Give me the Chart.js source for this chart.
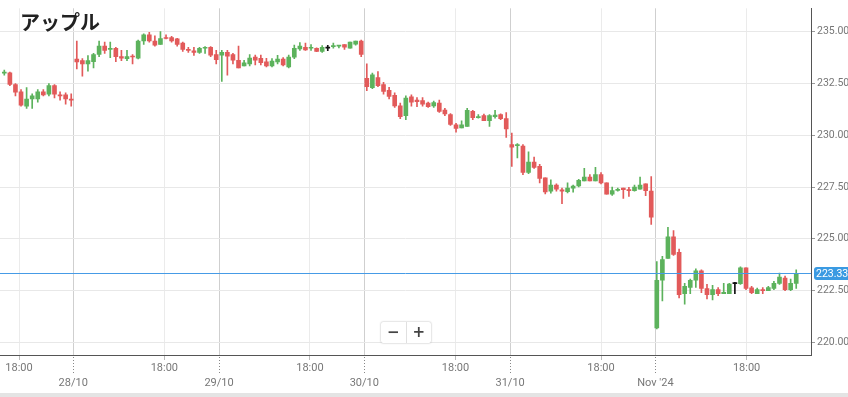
<!DOCTYPE html>
<html>
<head>
<meta charset="utf-8">
<script src="https://cdn.jsdelivr.net/npm/chart.js@4"></script>
<style>
  html, body { margin: 0; padding: 0; background: #e4e4e4; }
  #wrap { position: relative; width: 848px; height: 393px; background: #fff; }
  #title {
    position: absolute; left: 20px; top: 7px;
    font: bold 20px "Noto Sans CJK JP", sans-serif; color: #222;
    text-shadow: 0 0 3px #fff, 0 0 3px #fff, 0 0 3px #fff;
  }
  #zoom {
    position: absolute; left: 381px; top: 322px; width: 50px; height: 21px;
    background: #fff; box-shadow: 0 0 2px rgba(0,0,0,.35); border-radius: 2px;
    display: flex; font: bold 15px "DejaVu Sans", sans-serif; color: #444;
  }
  #zoom span { flex: 1; text-align: center; line-height: 21px; }
  #zoom span + span { border-left: 1px solid #e0e0e0; }
</style>
</head>
<body>
<div id="wrap">
  <canvas id="c" width="848" height="393"></canvas>
  <div id="title">アップル</div>
  <div id="zoom"><span>−</span><span>+</span></div>
</div>
<script>
// OHLC per candle (index 0 = first candle on the left)
const opens = [
  233.0, 233.02, 232.45, 232.1, 231.4, 231.75, 231.75, 232.1, 231.98, 232.4, 231.95, 231.95, 231.75,
  233.68, 233.6, 233.45, 233.55, 233.9, 234.3, 234.15, 234.2, 233.8, 233.7, 233.82, 233.72, 234.55, 234.85, 234.55, 234.38, 234.7, 234.72, 234.65, 234.45, 234.15, 234.08, 234.0, 234.2, 234.25, 233.9,
  233.87, 234.0, 233.9, 233.62, 233.35, 233.45, 233.77, 233.72, 233.55, 233.35, 233.54, 233.68, 233.3, 233.77, 234.17, 234.25, 234.2, 234.2, 234.05, 234.21, 234.28, 234.3, 234.38, 234.2, 234.4, 234.55,
  232.75, 232.3, 232.78, 232.45, 232.17, 231.93, 231.42, 230.95, 231.85, 231.7, 231.67, 231.55, 231.42, 231.55, 231.22, 231.0, 230.5, 230.35, 230.43, 231.15, 230.85, 230.95, 230.7, 230.9, 231.0, 230.8,
  229.55, 229.5, 229.48, 228.2, 228.7, 228.5, 227.95, 227.3, 227.6, 227.37, 227.28, 227.45, 227.55, 227.8, 227.98, 227.8, 228.1, 227.7, 227.15, 227.34, 227.45, 227.38, 227.33, 227.4, 227.65, 227.3,
  220.7, 223.0, 224.05, 225.1, 224.35, 222.35, 222.65, 223.0, 223.45, 222.6, 222.3, 222.55, 222.35, 222.35, 222.84, 222.83, 223.6, 222.63, 222.35, 222.55, 222.5, 222.6, 222.85, 223.1, 222.55, 222.85
];
const highs = [
  233.15, 233.05, 232.5, 232.2, 232.3, 232.0, 232.2, 232.2, 232.5, 232.45, 232.1, 232.05, 232.0,
  234.55, 233.7, 233.85, 233.95, 234.55, 234.5, 234.5, 234.25, 234.1, 234.1, 233.9, 234.6, 234.9, 234.97, 234.8, 235.0, 234.85, 234.78, 234.68, 234.5, 234.25, 234.25, 234.25, 234.28, 234.28, 234.1,
  234.1, 234.1, 233.95, 234.3, 233.62, 233.9, 233.87, 233.87, 233.72, 233.7, 233.86, 233.75, 233.87, 234.35, 234.48, 234.45, 234.38, 234.22, 234.33, 234.34, 234.45, 234.33, 234.38, 234.5, 234.55, 234.6,
  233.45, 233.0, 233.07, 232.55, 232.32, 232.05, 231.55, 231.9, 231.95, 231.82, 231.82, 231.6, 231.65, 231.7, 231.3, 231.05, 230.57, 230.7, 231.3, 231.2, 231.0, 231.02, 231.0, 231.2, 231.03, 231.1,
  230.1, 229.6, 229.55, 229.2, 228.95, 228.6, 227.95, 227.85, 227.65, 227.45, 227.7, 227.6, 227.87, 228.4, 228.1, 228.45, 228.2, 227.7, 227.5, 227.45, 227.45, 227.48, 227.6, 227.98, 227.65, 228.0,
  223.9, 224.15, 225.55, 225.4, 224.5, 222.85, 223.05, 223.55, 223.5, 222.8, 222.75, 222.65, 222.85, 222.85, 222.9, 223.65, 223.6, 222.7, 222.62, 222.65, 222.7, 222.95, 223.35, 223.2, 223.05, 223.5
];
const lows = [
  232.9, 232.4, 231.9, 231.4, 231.3, 231.3, 231.6, 231.9, 231.9, 231.8, 231.7, 231.5, 231.4,
  233.2, 232.85, 233.1, 233.25, 233.8, 233.95, 233.75, 233.55, 233.6, 233.6, 233.45, 233.68, 234.38, 234.5, 234.3, 234.38, 234.65, 234.5, 234.3, 234.05, 234.0, 233.85, 233.95, 233.95, 233.8, 233.45,
  232.6, 232.9, 233.45, 233.25, 233.35, 233.35, 233.4, 233.4, 233.3, 233.3, 233.45, 233.35, 233.25, 233.7, 234.1, 234.1, 234.1, 234.03, 234.0, 234.09, 234.2, 234.22, 234.15, 234.2, 234.35, 233.8,
  232.15, 232.25, 232.35, 231.98, 231.75, 231.35, 230.8, 230.75, 231.4, 231.38, 231.4, 231.35, 231.35, 231.1, 230.95, 230.48, 230.15, 230.35, 230.43, 230.75, 230.82, 230.7, 230.43, 230.82, 230.75, 229.9,
  228.5, 228.9, 228.1, 228.15, 228.4, 227.7, 227.17, 227.2, 227.3, 226.7, 227.22, 227.25, 227.5, 227.8, 227.8, 227.8, 227.65, 227.15, 227.1, 227.3, 226.95, 227.05, 227.3, 227.4, 227.08, 225.7,
  220.65, 222.0, 224.05, 224.2, 222.15, 221.85, 222.35, 222.65, 222.4, 222.1, 222.05, 222.25, 222.35, 222.35, 222.35, 222.8, 222.55, 222.35, 222.35, 222.35, 222.5, 222.55, 222.8, 222.5, 222.5, 222.6
];
const closes = [
  233.05, 232.45, 232.08, 231.45, 231.75, 231.9, 232.1, 231.95, 232.4, 231.98, 231.9, 231.75, 231.7,
  233.54, 233.45, 233.6, 233.9, 234.3, 234.1, 234.2, 233.8, 233.72, 233.8, 233.78, 234.55, 234.85, 234.55, 234.35, 234.67, 234.67, 234.55, 234.38, 234.15, 234.1, 234.0, 234.2, 234.25, 233.87, 233.65,
  234.0, 233.82, 233.62, 233.25, 233.5, 233.73, 233.63, 233.5, 233.35, 233.58, 233.68, 233.4, 233.77, 234.2, 234.3, 234.12, 234.23, 234.05, 234.25, 234.21, 234.32, 234.32, 234.25, 234.5, 234.55, 233.9,
  232.35, 232.92, 232.4, 232.12, 231.88, 231.42, 230.9, 231.8, 231.6, 231.62, 231.5, 231.38, 231.58, 231.15, 231.03, 230.52, 230.33, 230.5, 231.2, 230.85, 230.9, 230.7, 230.95, 230.97, 230.8, 230.3,
  229.43, 229.55, 228.2, 228.7, 228.45, 227.92, 227.26, 227.6, 227.4, 227.3, 227.45, 227.55, 227.82, 227.98, 227.8, 228.1, 227.7, 227.15, 227.33, 227.38, 227.37, 227.32, 227.5, 227.6, 227.32, 226.05,
  223.0, 224.0, 225.1, 224.25, 222.3, 222.7, 223.0, 223.45, 222.6, 222.3, 222.55, 222.35, 222.42, 222.82, 222.84, 223.6, 222.6, 222.4, 222.55, 222.5, 222.65, 222.85, 223.15, 222.55, 222.85, 223.33
];

// x axis ticks (in candle-index units)
const hourTicks = [2.64, 28.7, 54.8, 80.9, 107.0, 133.1];
const hourLabel = "18:00";
const dayTicks = [12.35, 38.5, 64.55, 90.7, 116.75];
const dayLabels = ["28/10", "29/10", "30/10", "31/10", "Nov '24"];
const yTicks = [220, 222.5, 225, 227.5, 230, 232.5, 235];
const lastPrice = 223.33;

const GREEN = "#5cb25c", RED = "#e25a5a", FLAT = "#111";
const colors = opens.map((o, i) => closes[i] > o ? GREEN : closes[i] < o ? RED : FLAT);

let xTicks = hourTicks.map(v => ({ v, label: hourLabel, day: false }))
  .concat(dayTicks.map((v, i) => ({ v, label: ["", dayLabels[i]], day: true })))
  .sort((a, b) => a.v - b.v);

const extras = {
  id: "extras",
  afterDatasetsDraw(chart) {
    const { ctx, chartArea, scales } = chart;
    const y = Math.round(scales.y.getPixelForValue(lastPrice)) + 0.5;
    ctx.save();
    ctx.globalAlpha = 1;
    ctx.strokeStyle = "rgb(70, 155, 230)";
    ctx.lineWidth = 1;
    ctx.beginPath();
    ctx.moveTo(chartArea.left, y);
    ctx.lineTo(chartArea.right, y);
    ctx.stroke();
    ctx.restore();
  },
  afterDraw(chart) {
    const { ctx, chartArea, scales } = chart;
    ctx.save();
    // dotted day markers under the axis
    ctx.strokeStyle = "#888";
    ctx.lineWidth = 1;
    ctx.setLineDash([1, 2]);
    dayTicks.forEach(v => {
      const x = Math.round(scales.x.getPixelForValue(v)) + 0.5;
      ctx.beginPath();
      ctx.moveTo(x, chartArea.bottom + 2);
      ctx.lineTo(x, chartArea.bottom + 18);
      ctx.stroke();
    });
    ctx.setLineDash([]);
    // last price label
    const y = scales.y.getPixelForValue(lastPrice);
    ctx.fillStyle = "#3a9ae2";
    ctx.beginPath();
    ctx.roundRect(chartArea.right + 3, y - 6.5, 40, 13, 3);
    ctx.fill();
    ctx.fillStyle = "#fff";
    ctx.font = "10.5px Roboto";
    ctx.textBaseline = "middle";
    ctx.fillText(lastPrice.toFixed(2), chartArea.right + 5, y + 0.5);
    ctx.restore();
  }
};

new Chart(document.getElementById("c"), {
  type: "bar",
  data: {
    datasets: [
      {
        label: "body",
        data: opens.map((o, i) => ({ x: i, y: [o, closes[i]] })),
        backgroundColor: colors,
        barThickness: 4,
        minBarLength: 1,
        grouped: false,
        order: 0
      },
      {
        label: "wick",
        data: opens.map((o, i) => ({ x: i, y: [lows[i], highs[i]] })),
        backgroundColor: colors,
        barThickness: 1,
        grouped: false,
        order: 1
      }
    ]
  },
  options: {
    responsive: false,
    animation: false,
    devicePixelRatio: 1,
    layout: { padding: 0 },
    plugins: { legend: { display: false }, tooltip: { enabled: false } },
    scales: {
      x: {
        type: "linear",
        offset: false,
        min: -0.771,
        max: 144.65,
        afterBuildTicks: s => { s.ticks = xTicks.map(t => ({ value: t.v })); },
        afterFit: s => { s.height = 38; },
        ticks: {
          autoSkip: false,
          maxRotation: 0,
          padding: 1,
          color: "#777",
          font: { family: "Roboto", size: 11, lineHeight: 1.35 },
          callback: (v, i) => xTicks[i] ? xTicks[i].label : ""
        },
        grid: {
          offset: false,
          color: c => (xTicks[c.index] && xTicks[c.index].day) ? "#cfcfcf" : "#ebebeb",
          tickColor: c => (xTicks[c.index] && xTicks[c.index].day) ? "rgba(0,0,0,0)" : "#bbb",
          tickLength: 5
        },
        border: { color: "#555" }
      },
      y: {
        position: "right",
        min: 219.39,
        max: 236.13,
        afterBuildTicks: s => { s.ticks = yTicks.map(v => ({ value: v })); },
        afterFit: s => { s.width = 37; },
        ticks: {
          padding: 2,
          color: "#777",
          font: { family: "Roboto", size: 10.5 },
          callback: v => v.toFixed(2)
        },
        grid: { color: "#e8e8e8", tickColor: "#999", tickLength: 4 },
        border: { color: "#555" }
      }
    }
  },
  plugins: [extras]
});
</script>
</body>
</html>
